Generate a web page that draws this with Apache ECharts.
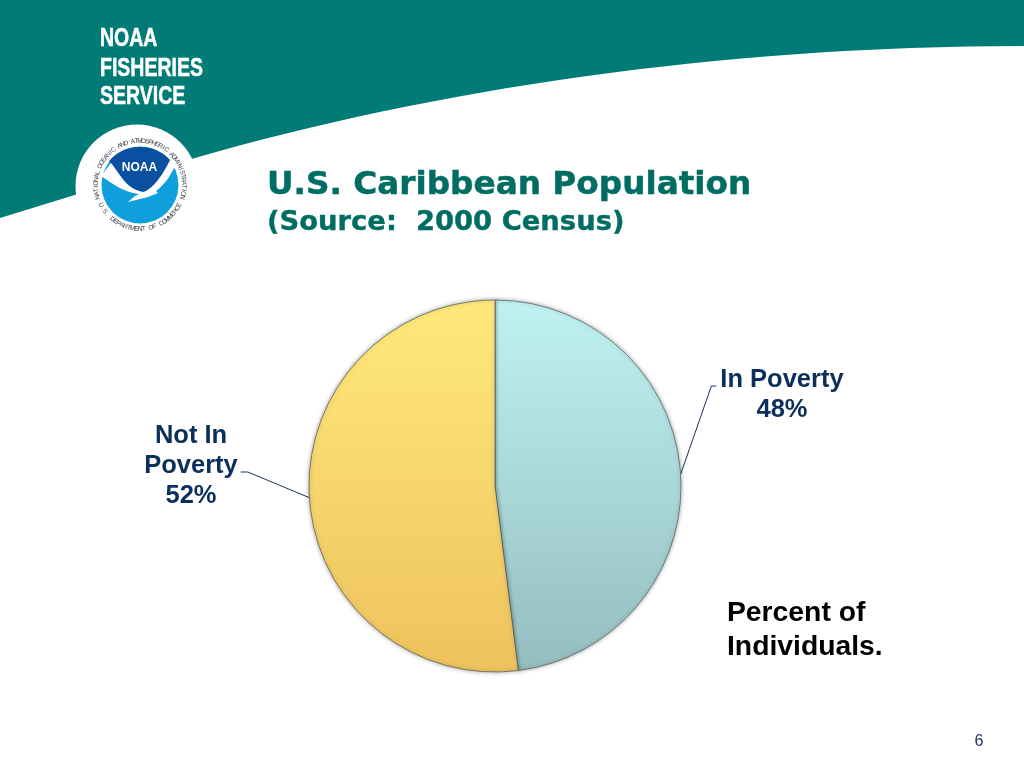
<!DOCTYPE html>
<html>
<head>
<meta charset="utf-8">
<style>html,body{margin:0;padding:0;background:#fff}#c{width:1024px;height:768px}</style>
<script src="https://cdn.jsdelivr.net/npm/echarts@6/dist/echarts.min.js"></script>
</head>
<body>
<div id="c"></div>
<script>
var categories = ['In Poverty', 'Not In\nPoverty'];
var percents = [48, 52];
var titleText = 'U.S. Caribbean Population';
var subtitleText = '(Source:  2000 Census)';
var noteLines = 'Percent of\nIndividuals.';
var brandLines = ['NOAA', 'FISHERIES', 'SERVICE'];
var sealTop = 'NATIONAL OCEANIC AND ATMOSPHERIC ADMINISTRATION';
var sealBottom = 'U.S. DEPARTMENT OF COMMERCE';
var pageNumber = '6';

var chart = echarts.init(document.getElementById('c'), null, {renderer: 'canvas'});
var seal = {x: 140, y: 185};

function shape(name, pathData) {
  echarts.graphic.registerShape(name, echarts.graphic.extendPath(pathData, {}));
  return name;
}
var bannerShape = shape('banner', 'M0 0H1024V46C720 46 430 90 195 158L0 218Z');
var darkShape = shape('sealDark', 'M109 161C118 151 128 147 140 147C152 147 162 151 171 161C163 176 155 191 143 192C127 190 120 174 109 161Z');
var wingShape = shape('sealWing', 'M101 176L111 163C120 174 126 189 143 192C152 190 163 175 170 160L176 164C170 177 164 185 156 191L158 193L148 197L128 202L135 196L139 194C122 192 112 183 101 176Z');

function ringText(str, radius, from, to, bottom) {
  var out = [], n = str.length;
  for (var i = 0; i < n; i++) {
    var deg = from + (to - from) * i / (n - 1);
    var a = deg * Math.PI / 180;
    out.push({
      type: 'text', z: 12,
      x: seal.x + radius * Math.sin(a),
      y: seal.y - radius * Math.cos(a),
      rotation: bottom ? (-a + Math.PI) : -a,
      style: {text: str[i], font: '6.5px "Liberation Sans"', fill: '#3a3f48', align: 'center', verticalAlign: 'middle'}
    });
  }
  return out;
}

function brand(i, y) {
  return {type: 'text', z: 6, x: 100, y: y, scaleX: 0.78, style: {text: brandLines[i], font: 'bold 25px "Liberation Sans"', fill: '#fff', stroke: '#fff', lineWidth: 0.5, verticalAlign: 'bottom'}};
}

var graphics = [
  {type: bannerShape, z: 1, style: {fill: '#007b76'}},
  {type: 'circle', z: 2, shape: {cx: 137, cy: 186, r: 61.5}, style: {fill: '#fff'}},
  {type: 'circle', z: 3, shape: {cx: seal.x, cy: seal.y, r: 38.5}, style: {fill: '#0f9fdc'}},
  {type: darkShape, z: 4, style: {fill: '#0b4fa0'}},
  {type: wingShape, z: 5, style: {fill: '#fff'}},
  {type: 'text', z: 6, x: 139.5, y: 167.5, style: {text: 'NOAA', font: 'bold 12px "Liberation Sans"', fill: '#fff', align: 'center', verticalAlign: 'middle'}},
  brand(0, 52), brand(1, 82), brand(2, 110),
  {type: 'text', z: 6, x: 727, y: 596, style: {text: noteLines, font: 'bold 28.3px "Liberation Sans"', lineHeight: 34, fill: '#000'}},
  {type: 'text', z: 6, x: 979, y: 742, style: {text: pageNumber, font: '16px "Liberation Sans"', fill: '#1f3864', align: 'center', verticalAlign: 'middle'}}
].concat(ringText(sealTop, 44, -106, 106, false)).concat(ringText(sealBottom, 44, 243, 117, true));

function grad(top, bottom) {
  return new echarts.graphic.LinearGradient(0, 300, 0, 672, [
    {offset: 0, color: top}, {offset: 1, color: bottom}
  ], true);
}

var labelAnchor = {};
labelAnchor[categories[0]] = {x: 782, y: 395, side: -1, elbowDy: -9, near: 4, far: 9};
labelAnchor[categories[1]] = {x: 191, y: 466, side: 1, elbowDy: 6, near: 3, far: 10};

chart.setOption({
  animation: false,
  backgroundColor: '#fff',
  title: [
    {text: titleText, left: 267, top: 169, padding: 0, textStyle: {fontFamily: 'DejaVu Sans', fontWeight: 'bold', fontSize: 32.7, color: '#006d62', textBorderColor: '#006d62', textBorderWidth: 0.5}},
    {text: subtitleText, left: 267, top: 209, padding: 0, textStyle: {fontFamily: 'DejaVu Sans', fontWeight: 'bold', fontSize: 27.4, color: '#006d62', textBorderColor: '#006d62', textBorderWidth: 0.4}}
  ],
  graphic: graphics,
  series: [{
    type: 'pie',
    center: [495, 486],
    radius: [0, 186],
    startAngle: 90,
    clockwise: true,
    silent: true,
    avoidLabelOverlap: false,
    itemStyle: {borderColor: 'rgba(85,95,85,0.75)', borderWidth: 1, shadowBlur: 4, shadowColor: 'rgba(0,0,0,0.35)'},
    label: {
      show: true, position: 'outside',
      formatter: '{b}\n{d}%',
      fontFamily: 'Liberation Sans', fontWeight: 'bold', fontSize: 25.5, lineHeight: 30,
      color: '#0b2f5c', align: 'center'
    },
    labelLine: {show: true, smooth: false, length: 20, length2: 10, lineStyle: {color: '#1a3358', width: 1}},
    labelLayout: function (p) {
      var a = labelAnchor[p.text.split('\n').slice(0, -1).join('\n')];
      var s = p.labelLinePoints[0];
      var edge = a.x + a.side * p.labelRect.width / 2;
      var elbowY = a.y + a.elbowDy;
      return {
        x: a.x, y: a.y, align: 'center', verticalAlign: 'middle',
        labelLinePoints: [[s[0], s[1]], [edge + a.side * a.far, elbowY], [edge + a.side * a.near, elbowY]]
      };
    },
    data: [
      {name: categories[0], value: percents[0], itemStyle: {color: grad('#c0f2f3', '#94bdc0')}},
      {name: categories[1], value: percents[1], itemStyle: {color: grad('#ffe97c', '#eec25e')}}
    ]
  }]
});
</script>
</body>
</html>
